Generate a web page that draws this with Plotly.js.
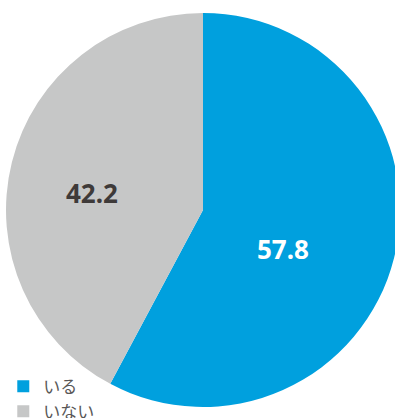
<!DOCTYPE html>
<html>
<head>
<meta charset="utf-8">
<script src="https://cdn.plot.ly/plotly-3.0.1.min.js"></script>
<style>
html,body{margin:0;padding:0;overflow:hidden;background:#fff;width:395px;height:418px;}
#chart{width:410px;height:418px;}
</style>
</head>
<body>
<div id="chart"></div>
<script>
const categories = ["いる", "いない"];
const values = [57.8, 42.2];
const sliceColors = ["#00A0DE", "#C6C7C7"];
const textColors = ["#FFFFFF", "#3E3A39"];

const W = 410, H = 418;
const trace = {
  type: "pie",
  labels: categories,
  values: values,
  sort: false,
  direction: "clockwise",
  rotation: 0,
  marker: {colors: sliceColors, line: {width: 0}},
  textinfo: "none",
  hoverinfo: "label+value",
  domain: {x: [5 / W, 401 / W], y: [11 / H, 405 / H]}
};

// label anchor spots (paper coords), one per slice
const labelPos = [[282.5 / W, (H - 249) / H], [91.5 / W, (H - 193) / H]];
const annotations = values.map((v, i) => ({
  xref: "paper", yref: "paper",
  x: labelPos[i][0], y: labelPos[i][1],
  xanchor: "center", yanchor: "middle",
  showarrow: false,
  text: "<b>" + v.toFixed(1) + "</b>",
  font: {family: "Noto Sans, Open Sans, sans-serif", size: 26, color: textColors[i]}
}));

const layout = {
  width: W,
  height: H,
  margin: {l: 0, r: 0, t: 0, b: 0, autoexpand: false},
  paper_bgcolor: "#ffffff",
  showlegend: true,
  annotations: annotations,
  legend: {
    x: 0.008, y: -0.028, xanchor: "left", yanchor: "bottom",
    font: {family: "Noto Sans CJK JP, sans-serif", size: 17, color: "#595757"},
    bgcolor: "rgba(0,0,0,0)",
    tracegroupgap: 0,
    itemwidth: 30
  }
};

Plotly.newPlot("chart", [trace], layout, {displayModeBar: false, staticPlot: true});
</script>
</body>
</html>
